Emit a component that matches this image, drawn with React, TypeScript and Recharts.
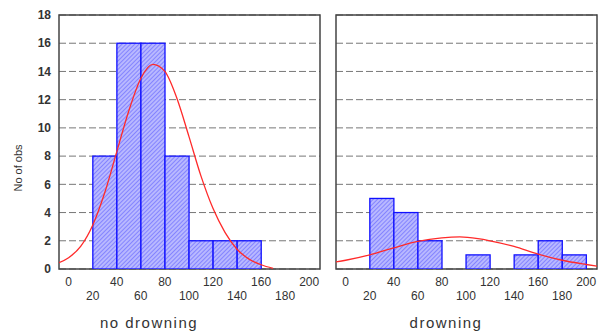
import React from 'react'
import {
  ComposedChart,
  Bar,
  Line,
  XAxis,
  YAxis,
  CartesianGrid,
  ReferenceArea
} from 'recharts'

// histogram bins (20 units wide), labelled by their left edge
const binStarts = [20, 40, 60, 80, 100, 120, 140, 160, 180]
const noDrowningCounts = [8, 16, 16, 8, 2, 2, 2, null, null]
const drowningCounts = [5, 4, 2, null, 1, null, 1, 2, 1]

// fitted normal curves
const noDrowningCurveX = [-8, 0, 10, 20, 30, 40, 50, 60, 70, 80, 90, 100, 110, 120, 130, 140, 150, 160, 170]
const noDrowningCurveY = [0.45, 0.8, 1.6, 3.1, 5.4, 8.3, 11.2, 13.5, 14.5, 14.0, 12.1, 9.4, 6.6, 4.3, 2.6, 1.4, 0.7, 0.3, 0.05]
const drowningCurveX = [-8, 0, 20, 40, 60, 80, 95, 110, 120, 140, 160, 180, 200, 209]
const drowningCurveY = [0.5, 0.62, 1.0, 1.5, 1.95, 2.2, 2.27, 2.15, 2.0, 1.6, 1.05, 0.62, 0.32, 0.2]

const xTicks = [0, 20, 40, 60, 80, 100, 120, 140, 160, 180, 200]
const yTicks = [0, 2, 4, 6, 8, 10, 12, 14, 16, 18]

const X_DOMAIN: [number, number] = [-8, 209]
const BIN_WIDTH = 20
const PLOT_W = 261
const PLOT_H = 254
const AXIS_H = 30
const BAR_W = (BIN_WIDTH * PLOT_W) / (X_DOMAIN[1] - X_DOMAIN[0])

const FONT = '"Liberation Sans", Arial, sans-serif'

function buildRows(counts: (number | null)[], cx: number[], cy: number[]) {
  const map = new Map<number, any>()
  binStarts.forEach((s, i) => {
    if (counts[i] == null) return
    const x = s + BIN_WIDTH / 2
    map.set(x, { ...(map.get(x) || { x }), count: counts[i] })
  })
  cx.forEach((x, i) => {
    map.set(x, { ...(map.get(x) || { x }), curve: cy[i] })
  })
  return Array.from(map.values()).sort((a, b) => a.x - b.x)
}

const XTick = ({ x, y, payload, index }: any) => (
  <text
    x={x}
    y={y + (index % 2 === 1 ? 27 : 13)}
    textAnchor="middle"
    dominantBaseline="central"
    fontSize={12}
    fill="#333"
    fontFamily={FONT}
  >
    {payload.value}
  </text>
)

// full bin-width bar, centred on the position recharts gives the bin
const HistBar = ({ x, y, width, height }: any) => {
  if (!height) return null
  const cx = x + width / 2
  return (
    <rect
      x={cx - BAR_W / 2}
      y={y}
      width={BAR_W}
      height={height}
      fill="url(#hatch)"
      stroke="#1010ff"
      strokeWidth={1.3}
    />
  )
}

function Panel({ rows, showY, left, width }: any) {
  return (
    <div style={{ position: 'absolute', left, top: 0 }}>
      <ComposedChart
        width={width}
        height={331}
        data={rows}
        margin={{
          top: 15,
          right: width - PLOT_W - (showY ? 59 : 6),
          bottom: 331 - 15 - PLOT_H - AXIS_H,
          left: showY ? 0 : 6
        }}
      >
        <defs>
          <pattern id="hatch" width="3" height="3" patternUnits="userSpaceOnUse" patternTransform="rotate(45)">
            <rect width="3" height="3" fill="#b8b8ff" />
            <line x1="0" y1="0" x2="0" y2="3" stroke="#6060ff" strokeWidth="1.2" />
          </pattern>
        </defs>
        <CartesianGrid vertical={false} stroke="#777" strokeDasharray="7 3" />
        <XAxis
          dataKey="x"
          type="number"
          domain={X_DOMAIN}
          ticks={xTicks}
          allowDataOverflow
          height={AXIS_H}
          axisLine={false}
          tickLine={false}
          tickSize={0}
          tickMargin={0}
          tick={<XTick />}
          interval={0}
        />
        <XAxis
          xAxisId="top"
          orientation="top"
          dataKey="x"
          type="number"
          domain={X_DOMAIN}
          ticks={xTicks}
          allowDataOverflow
          height={0}
          mirror
          axisLine={false}
          tickLine={{ stroke: '#222', strokeWidth: 1.5 }}
          tickSize={3}
          tick={false}
          interval={0}
        />
        <YAxis
          domain={[0, 18]}
          ticks={yTicks}
          allowDataOverflow
          hide={!showY}
          width={showY ? 59 : 0}
          axisLine={false}
          tickLine={false}
          tick={{ fontSize: 12, fill: '#333', fontFamily: FONT, fontWeight: 600 }}
          interval={0}
        />
        <Bar dataKey="count" shape={<HistBar />} isAnimationActive={false} />
        <Line
          dataKey="curve"
          type="monotone"
          stroke="#ff2a2a"
          strokeWidth={1.3}
          dot={false}
          connectNulls
          isAnimationActive={false}
        />
        <ReferenceArea
          x1={X_DOMAIN[0]}
          x2={X_DOMAIN[1]}
          y1={0}
          y2={18}
          fill="none"
          fillOpacity={0}
          stroke="#444"
          strokeWidth={1.5}
          ifOverflow="visible"
        />
      </ComposedChart>
    </div>
  )
}

export default function App() {
  const leftRows = buildRows(noDrowningCounts, noDrowningCurveX, noDrowningCurveY)
  const rightRows = buildRows(drowningCounts, drowningCurveX, drowningCurveY)
  return (
    <div
      style={{
        position: 'absolute',
        left: 0,
        top: 0,
        width: 601,
        height: 331,
        background: '#fff',
        overflow: 'hidden',
        fontFamily: FONT
      }}
    >
      <Panel rows={leftRows} showY left={0} width={330} />
      <Panel rows={rightRows} showY={false} left={330} width={271} />
      <div
        style={{
          position: 'absolute',
          left: 18,
          top: 168,
          transform: 'translate(-50%, -50%) rotate(-90deg)',
          fontSize: 11,
          color: '#333',
          whiteSpace: 'nowrap'
        }}
      >
        No of obs
      </div>
      <div
        style={{
          position: 'absolute',
          left: 149,
          top: 322,
          transform: 'translate(-50%, -50%)',
          fontSize: 15,
          letterSpacing: 1.5,
          color: '#333',
          whiteSpace: 'nowrap'
        }}
      >
        no drowning
      </div>
      <div
        style={{
          position: 'absolute',
          left: 446,
          top: 322,
          transform: 'translate(-50%, -50%)',
          fontSize: 15,
          letterSpacing: 1.5,
          color: '#333',
          whiteSpace: 'nowrap'
        }}
      >
        drowning
      </div>
    </div>
  )
}
